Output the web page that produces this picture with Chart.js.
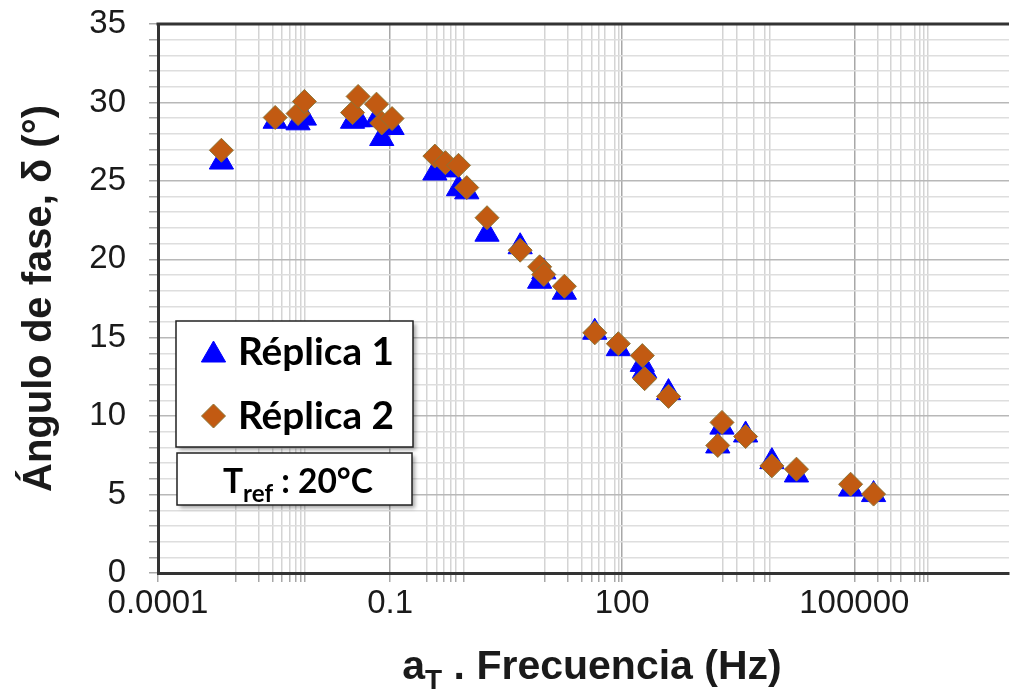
<!DOCTYPE html>
<html>
<head>
<meta charset="utf-8">
<script src="https://cdn.jsdelivr.net/npm/chart.js@4.4.0/dist/chart.umd.min.js"></script>
<style>
  html, body { margin: 0; padding: 0; background: #fff; overflow: hidden; }
  #wrap { position: relative; width: 1024px; height: 696px; }
</style>
</head>
<body>
<div id="wrap"><canvas id="phaseChart"></canvas></div>
<script>
// reduced frequency aT·f (Hz), same sweep for both replicates
const freq = [6.6e-4, 3.27e-3, 6.46e-3, 7.8e-3, 0.0327, 0.0386, 0.0667, 0.078, 0.106, 0.379,
              0.519, 0.766, 0.98, 1.79, 4.8, 8.57, 9.7, 17.9, 44.2, 89.2,
              182, 195, 397, 1950, 1720, 3940, 8610, 17900, 89700, 177600];
// phase angle (deg)
const rep1 = [26.2, 28.8, 28.7, 29.0, 28.8, 28.9, 28.9, 27.7, 28.4, 25.5,
              25.7, 24.5, 24.3, 21.6, 20.8, 18.6, 19.2, 17.9, 15.35, 14.3,
              13.3, 12.9, 11.5, 9.3, 8.1, 8.8, 7.1, 6.25, 5.35, 5.0];
const rep2 = [26.95, 29.04, 29.29, 30.06, 29.35, 30.38, 29.89, 28.69, 28.97, 26.58,
              26.16, 25.99, 24.57, 22.65, 20.58, 19.52, 19.03, 18.28, 15.31, 14.62,
              13.86, 12.39, 11.26, 9.6, 8.13, 8.7, 6.83, 6.62, 5.66, 5.03];

const seriesNames = ['Réplica 1', 'Réplica 2'];
const xMajor = [1e-4, 1e-1, 1e2, 1e5];
const xMajorLabels = ['0.0001', '0.1', '100', '100000'];
const xMinor = [0.001, 0.002, 0.003, 0.004, 0.005, 0.006, 0.007, 0.008,
                0.3, 0.4, 0.5, 0.6, 0.7, 0.9,
                10, 20, 30, 40, 50, 60, 80, 90,
                2000, 3000, 5000, 7000, 8000,
                2e5, 3e5, 4e5, 6e5, 7e5, 8e5, 9e5];

const toPoints = ys => ys.map((y, i) => ({ x: freq[i], y: y }));

// font size that makes text span a given width
function fitSize(ctx, text, weight, family, width) {
  ctx.font = weight + ' 100px ' + family;
  return 100 * width / ctx.measureText(text).width;
}

// frame top line, legend boxes and the x title with subscript
const extras = {
  id: 'extras',
  afterDraw(chart) {
    const { ctx, chartArea: a } = chart;
    ctx.save();
    ctx.strokeStyle = '#333';
    ctx.lineWidth = 3;
    ctx.beginPath();
    ctx.moveTo(a.left - 1.5, a.top);
    ctx.lineTo(a.right, a.top);
    ctx.stroke();

    // boxes
    const box = (x, y, w, h) => {
      ctx.save();
      ctx.shadowColor = 'rgba(0,0,0,0.35)';
      ctx.shadowOffsetX = 3;
      ctx.shadowOffsetY = 3;
      ctx.shadowBlur = 4;
      ctx.fillStyle = '#fff';
      ctx.fillRect(x, y, w, h);
      ctx.restore();
      ctx.strokeStyle = '#222';
      ctx.lineWidth = 1.5;
      ctx.strokeRect(x, y, w, h);
    };
    box(176, 321, 237, 126);
    box(177, 453, 235, 52);

    // legend entries
    const rows = [355, 416];
    chart.data.datasets.forEach((ds, i) => {
      ctx.fillStyle = ds.backgroundColor;
      ctx.strokeStyle = ds.borderColor;
      ctx.lineWidth = ds.borderWidth;
      Chart.helpers.drawPoint(ctx, {
        pointStyle: ds.pointStyle,
        radius: ds.pointRadius,
        borderWidth: ds.borderWidth,
        rotation: 0
      }, 213.5, rows[i]);
    });
    ctx.fillStyle = '#000';
    ctx.textBaseline = 'alphabetic';
    ctx.textAlign = 'left';
    const ls = fitSize(ctx, seriesNames[0], 'bold', 'Lato', 156);
    ctx.font = 'bold ' + ls + 'px Lato';
    ctx.fillText(seriesNames[0], 238, 365);
    ctx.fillText(seriesNames[1], 238, 429);

    // reference temperature
    const ts = fitSize(ctx, 'T : 20°C', 'bold', 'Lato', 120);
    ctx.font = 'bold ' + ts + 'px Lato';
    ctx.fillText('T', 223, 493);
    let x = 223 + ctx.measureText('T').width;
    ctx.font = 'bold ' + (ts * 0.72) + 'px Lato';
    ctx.fillText('ref', x, 502);
    x += ctx.measureText('ref').width;
    ctx.font = 'bold ' + ts + 'px Lato';
    ctx.fillText(' : 20°C', x, 493);

    // x axis title
    const tFont = 'bold 41px "Liberation Sans"';
    const sFont = 'bold 28px "Liberation Sans"';
    ctx.font = tFont;
    const wa = ctx.measureText('a').width;
    const rest = ' . Frecuencia (Hz)';
    const wr = ctx.measureText(rest).width;
    ctx.font = sFont;
    const wt = ctx.measureText('T').width;
    let tx = 592 - (wa + wt + wr) / 2;
    ctx.fillStyle = '#1a1a1a';
    ctx.font = tFont;
    ctx.fillText('a', tx, 679);
    tx += wa;
    ctx.font = sFont;
    ctx.fillText('T', tx, 689);
    tx += wt;
    ctx.font = tFont;
    ctx.fillText(rest, tx, 679);
    ctx.restore();
  }
};

new Chart(document.getElementById('phaseChart'), {
  type: 'scatter',
  data: {
    datasets: [
      {
        label: seriesNames[0],
        data: toPoints(rep1),
        pointStyle: 'triangle',
        pointRadius: 14,
        backgroundColor: '#0000FF',
        borderColor: '#0000FF',
        borderWidth: 1,
        order: 2
      },
      {
        label: seriesNames[1],
        data: toPoints(rep2),
        pointStyle: 'rectRot',
        pointRadius: 12,
        backgroundColor: '#C25A12',
        borderColor: '#8A7436',
        borderWidth: 1,
        order: 1
      }
    ]
  },
  options: {
    responsive: true,
    maintainAspectRatio: false,
    animation: false,
    events: [],
    layout: { padding: { top: 24, right: 0, bottom: 0, left: 0 } },
    plugins: { legend: { display: false }, tooltip: { enabled: false } },
    scales: {
      x: {
        type: 'logarithmic',
        min: 1e-4,
        max: 1e7,
        afterBuildTicks: s => {
          s.ticks = xMajor.concat(xMinor).sort((p, q) => p - q).map(v => ({ value: v }));
        },
        afterFit: s => {
          s.height = 123;
          s.paddingLeft = 0;
          s.paddingRight = 0;
        },
        border: { color: '#333', width: 3 },
        grid: {
          color: c => xMajor.includes(c.tick.value) ? '#a8a8a8' : '#d4d4d4',
          tickColor: '#a8a8a8',
          lineWidth: 1.5,
          tickLength: 9
        },
        ticks: {
          autoSkip: false,
          maxRotation: 0,
          padding: 2,
          color: '#1a1a1a',
          font: { family: 'Liberation Sans', size: 33 },
          callback: v => {
            const i = xMajor.indexOf(v);
            return i >= 0 ? xMajorLabels[i] : '';
          }
        }
      },
      y: {
        min: 0,
        max: 35,
        afterFit: s => {
          s.width = 158;
          s.paddingTop = 0;
          s.paddingBottom = 0;
        },
        border: { color: '#333', width: 3 },
        grid: {
          color: c => c.tick.value % 5 === 0 ? '#b8b8b8' : '#dedede',
          tickColor: '#a8a8a8',
          lineWidth: 1.5,
          tickLength: 9
        },
        ticks: {
          stepSize: 1,
          autoSkip: false,
          padding: 23,
          color: '#1a1a1a',
          font: { family: 'Liberation Sans', size: 33 },
          callback: v => v % 5 === 0 ? v : ''
        },
        title: {
          display: true,
          text: 'Ángulo de fase, δ (°)',
          color: '#1a1a1a',
          padding: { top: 16, bottom: 0 },
          font: { family: 'Liberation Sans', size: 40, weight: 'bold' }
        }
      }
    }
  },
  plugins: [extras]
});
</script>
</body>
</html>
